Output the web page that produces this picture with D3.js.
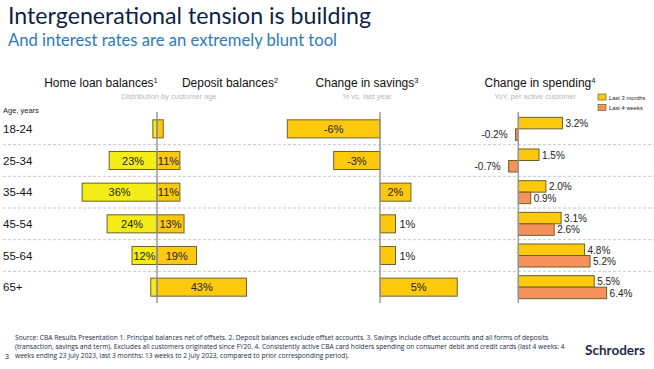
<!DOCTYPE html>
<html>
<head>
<meta charset="utf-8">
<script src="https://cdn.jsdelivr.net/npm/d3@7"></script>
<style>
  body { margin: 0; background: #fff; }
  text { font-family: "Liberation Sans", Arial, sans-serif; }
</style>
</head>
<body>
<div id="chart"></div>
<script>
var ages = ["18-24", "25-34", "35-44", "45-54", "55-64", "65+"];
var homeLoan = [2, 23, 36, 24, 12, 3];
var deposit = [3, 11, 11, 13, 19, 43];
var savings = [-6, -3, 2, 1, 1, 5];
var spend3m = [3.2, 1.5, 2.0, 3.1, 4.8, 5.5];
var spend4w = [-0.2, -0.7, 0.9, 2.6, 5.2, 6.4];
var spendSeries = ["Last 3 months", "Last 4 weeks"];

var footLines = [
  "Source: CBA Results Presentation 1. Principal balances net of offsets. 2. Deposit balances exclude offset accounts. 3. Savings include offset accounts and all forms of deposits",
  "(transaction, savings and term). Excludes all customers originated since FY20. 4. Consistently active CBA card holders spending on consumer debit and credit cards (last 4 weeks: 4",
  "weeks ending 23 July 2023, last 3 months: 13 weeks to 2 July 2023, compared to prior corresponding period)."
];

var w = 654, h = 369;
var cHome = "#f3ec16", cDep = "#fdc90c", cOrange = "#f5915a", cStroke = "#6e6128";

var svg = d3.select("#chart").append("svg")
  .attr("width", w).attr("height", h);
svg.append("rect").attr("width", w).attr("height", h).attr("fill", "#fff");

// titles
svg.append("text").attr("x", 8).attr("y", 24)
  .attr("font-size", 23.2).attr("fill", "#0c1f47")
  .style("font-family", "Lato, 'Open Sans', sans-serif")
  .text("Intergenerational tension is building");
svg.append("text").attr("x", 8).attr("y", 46)
  .attr("font-size", 16.6).attr("fill", "#2c7bb8")
  .style("font-family", "Lato, 'Open Sans', sans-serif")
  .text("And interest rates are an extremely blunt tool");

var y = d3.scaleBand().domain(ages).range([113, 303]).paddingInner(0.43).paddingOuter(0.215);
var step = y.step();

// dashed separators
svg.selectAll("line.sep").data(ages.slice(1)).enter().append("line")
  .attr("x1", 3).attr("x2", w)
  .attr("y1", function (d) { return y(d) - step * 0.43 / 2; })
  .attr("y2", function (d) { return y(d) - step * 0.43 / 2; })
  .attr("stroke", "#c8c8c8").attr("stroke-dasharray", "3,2").attr("stroke-width", 1);

// row labels
svg.append("text").attr("x", 3).attr("y", 113).attr("font-size", 7.5).attr("fill", "#222").text("Age, years");
svg.selectAll("text.age").data(ages).enter().append("text")
  .attr("x", 3).attr("y", function (d) { return y(d) + y.bandwidth() / 2 + 4; })
  .attr("font-size", 11.5).attr("fill", "#111").text(function (d) { return d; });

// headers
function header(x, label, sup, sub) {
  var t = svg.append("text").attr("x", x).attr("y", 87).attr("text-anchor", "middle")
    .attr("font-size", 12).attr("fill", "#111");
  t.append("tspan").text(label);
  t.append("tspan").attr("font-size", 7.5).attr("dy", -4).text(sup);
  if (sub) {
    svg.append("text").attr("x", sub[1]).attr("y", 99).attr("text-anchor", "middle")
      .attr("font-size", 7.5).attr("fill", "#b8b8b8").text(sub[0]);
  }
}
header(101, "Home loan balances", "1");
header(230, "Deposit balances", "2", ["Distribution by customer age", 169]);
header(367, "Change in savings", "3", ["% vs. last year", 367]);
header(540, "Change in spending", "4", ["YoY, per active customer", 535]);

// home loan / deposit
var x0 = 157;
var xHL = d3.scaleLinear().domain([0, 40]).range([x0, x0 - 83.2]);
var xDep = d3.scaleLinear().domain([0, 45]).range([x0, x0 + 93.6]);

svg.selectAll("rect.hl").data(homeLoan).enter().append("rect")
  .attr("x", function (d) { return xHL(d); })
  .attr("y", function (d, i) { return y(ages[i]); })
  .attr("width", function (d) { return xHL(0) - xHL(d); })
  .attr("height", y.bandwidth())
  .attr("fill", cHome).attr("stroke", cStroke).attr("stroke-width", 1);
svg.selectAll("rect.dep").data(deposit).enter().append("rect")
  .attr("x", x0)
  .attr("y", function (d, i) { return y(ages[i]); })
  .attr("width", function (d) { return xDep(d) - x0; })
  .attr("height", y.bandwidth())
  .attr("fill", cDep).attr("stroke", cStroke).attr("stroke-width", 1);

svg.selectAll("text.hl").data(homeLoan.map(function (d, i) { return [d, i]; })).enter()
  .filter(function (d) { return d[0] >= 10; })
  .append("text")
  .attr("x", function (d) { return (xHL(d[0]) + x0) / 2; })
  .attr("y", function (d) { return y(ages[d[1]]) + y.bandwidth() / 2 + 4; })
  .attr("text-anchor", "middle").attr("font-size", 11).attr("fill", "#222")
  .text(function (d) { return d[0] + "%"; });
svg.selectAll("text.dep").data(deposit.map(function (d, i) { return [d, i]; })).enter()
  .filter(function (d) { return d[0] >= 10; })
  .append("text")
  .attr("x", function (d) { return (xDep(d[0]) + x0) / 2; })
  .attr("y", function (d) { return y(ages[d[1]]) + y.bandwidth() / 2 + 4; })
  .attr("text-anchor", "middle").attr("font-size", 11).attr("fill", "#222")
  .text(function (d) { return d[0] + "%"; });

svg.append("line").attr("x1", x0).attr("x2", x0).attr("y1", 112).attr("y2", 303)
  .attr("stroke", "#999").attr("stroke-width", 1.5);

// savings
var xS = d3.scaleLinear().domain([-6, 5]).range([380 - 92.7, 380 + 77.25]);
svg.selectAll("rect.sav").data(savings).enter().append("rect")
  .attr("x", function (d) { return Math.min(xS(d), xS(0)); })
  .attr("y", function (d, i) { return y(ages[i]); })
  .attr("width", function (d) { return Math.abs(xS(d) - xS(0)); })
  .attr("height", y.bandwidth())
  .attr("fill", cDep).attr("stroke", cStroke).attr("stroke-width", 1);
svg.selectAll("text.sav").data(savings).enter().append("text")
  .attr("x", function (d) { return Math.abs(d) >= 2 ? (xS(d) + xS(0)) / 2 : xS(d) + 4; })
  .attr("y", function (d, i) { return y(ages[i]) + y.bandwidth() / 2 + 4; })
  .attr("text-anchor", function (d) { return Math.abs(d) >= 2 ? "middle" : "start"; })
  .attr("font-size", 11).attr("fill", "#222")
  .text(function (d) { return d + "%"; });
svg.append("line").attr("x1", xS(0)).attr("x2", xS(0)).attr("y1", 112).attr("y2", 303)
  .attr("stroke", "#999").attr("stroke-width", 1.5);

// spending
var xSp = d3.scaleLinear().domain([-1, 7]).range([518.3 - 13.8, 518.3 + 96.6]);
var spendRows = [];
ages.forEach(function (a, i) {
  spendRows.push({ age: a, s: spendSeries[0], v: spend3m[i] });
  spendRows.push({ age: a, s: spendSeries[1], v: spend4w[i] });
});
function subY(d) {
  var c = y(d.age) + y.bandwidth() / 2;
  return d.s === spendSeries[0] ? c - 11.5 : c;
}
svg.selectAll("rect.sp").data(spendRows).enter().append("rect")
  .attr("x", function (d) { return Math.min(xSp(d.v), xSp(0)); })
  .attr("y", subY)
  .attr("width", function (d) { return Math.abs(xSp(d.v) - xSp(0)); })
  .attr("height", 11.5)
  .attr("fill", function (d) { return d.s === spendSeries[0] ? cDep : cOrange; })
  .attr("stroke", cStroke).attr("stroke-width", 1);
svg.selectAll("text.sp").data(spendRows).enter().append("text")
  .attr("x", function (d) { return d.v < 0 ? xSp(d.v) - 8 : xSp(d.v) + 3; })
  .attr("y", function (d) { return subY(d) + 9.5; })
  .attr("text-anchor", function (d) { return d.v < 0 ? "end" : "start"; })
  .attr("font-size", 10).attr("fill", "#222")
  .text(function (d) { return d.v.toFixed(1) + "%"; });
svg.append("line").attr("x1", xSp(0)).attr("x2", xSp(0)).attr("y1", 112).attr("y2", 303)
  .attr("stroke", "#999").attr("stroke-width", 1.5);

// legend
var lg = svg.selectAll("g.lg").data(spendSeries).enter().append("g")
  .attr("transform", function (d, i) { return "translate(598," + (94 + i * 10.5) + ")"; });
lg.append("rect").attr("width", 8).attr("height", 6)
  .attr("fill", function (d, i) { return i === 0 ? cDep : cOrange; })
  .attr("stroke", cStroke).attr("stroke-width", 0.7);
lg.append("text").attr("x", 11).attr("y", 5.5).attr("font-size", 5.8).attr("fill", "#222")
  .text(function (d) { return d; });

// footer
svg.selectAll("text.foot").data(footLines).enter().append("text")
  .attr("x", 15).attr("y", function (d, i) { return 340 + i * 9; })
  .attr("font-size", 6.65).attr("fill", "#1a2a4a")
  .style("font-family", "'Open Sans', sans-serif")
  .text(function (d) { return d; });
svg.append("text").attr("x", 5).attr("y", 359).attr("font-size", 7).attr("fill", "#1a2a4a").text("3");
svg.append("text").attr("x", 645).attr("y", 355).attr("text-anchor", "end")
  .attr("font-size", 13.5).attr("font-weight", "bold").attr("fill", "#1b2a4e")
  .style("font-family", "Lato, 'Open Sans', sans-serif")
  .text("Schroders");
</script>
</body>
</html>
